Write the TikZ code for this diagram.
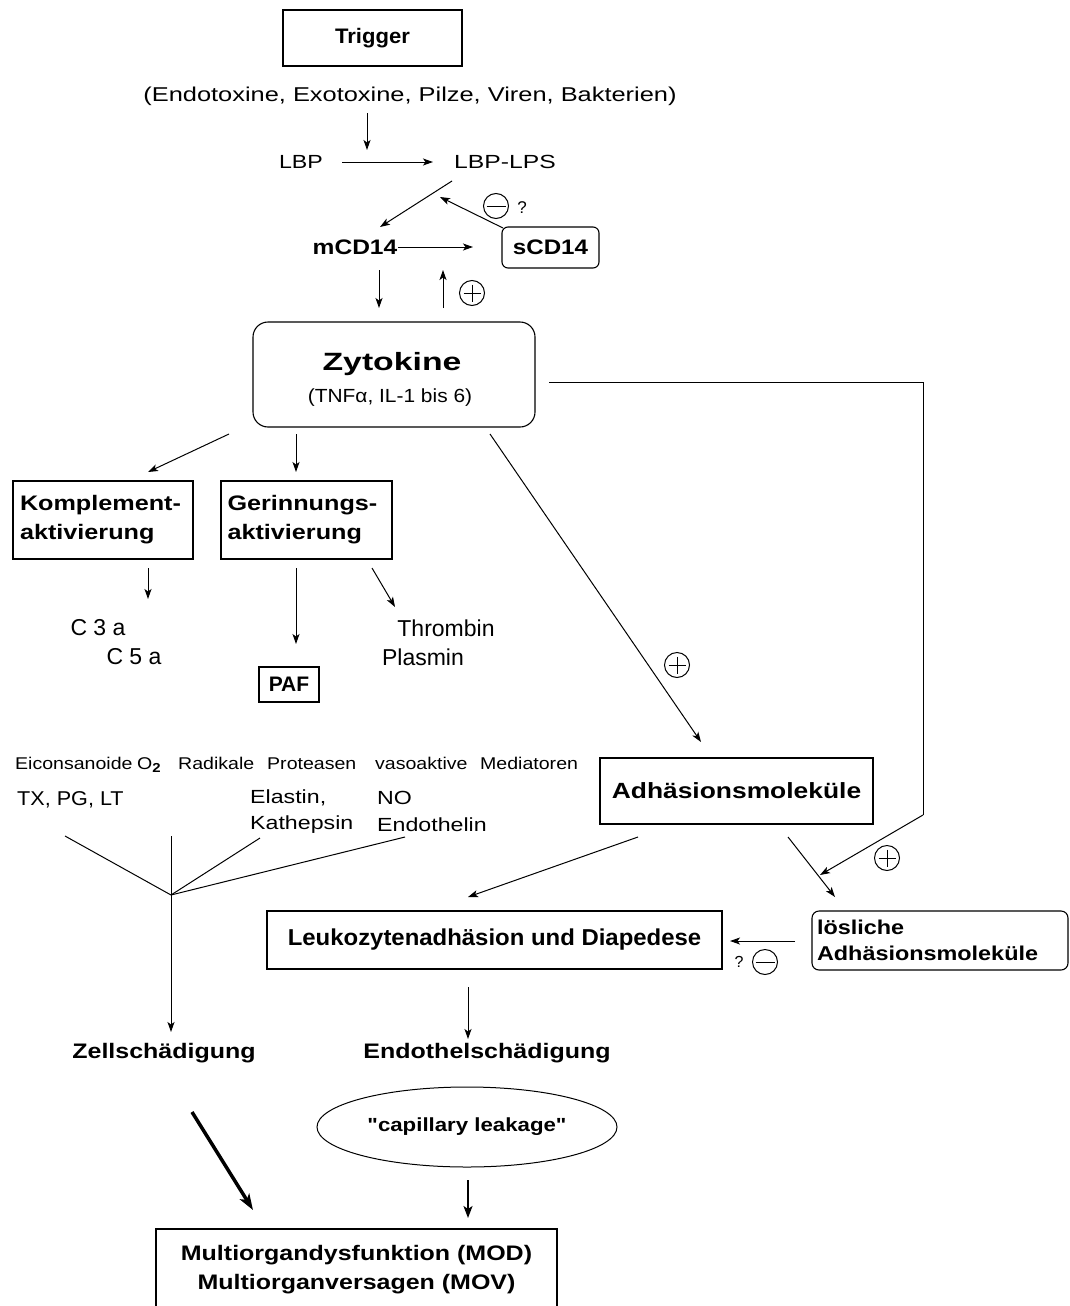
\documentclass[tikz,border=0pt]{standalone}
\usepackage{fontspec}
\setmainfont{Liberation Sans}[Ligatures=TeXOff]
\usetikzlibrary{arrows.meta,shapes.geometric}
\newcommand\ff[3]{\fontsize{#1pt}{#2pt}\selectfont\addfontfeature{FakeStretch=#3}}
\begin{document}
\begin{tikzpicture}[x=1pt,y=-1pt,
  box/.style={draw, line width=1.1pt, inner sep=0pt, align=center},
  lbl/.style={inner sep=0pt},
  arr/.style={-{Stealth[length=10pt,width=7pt,inset=2.5pt]}, line width=1pt},
  ln/.style={line width=1pt},
  sgn/.style={circle, draw, line width=1pt, minimum size=25pt, inner sep=0pt},
  plussign/.style={sgn, path picture={
      \draw[line width=1pt] ([xshift=4pt]path picture bounding box.west) -- ([xshift=-4pt]path picture bounding box.east);
      \draw[line width=1pt] ([yshift=-4pt]path picture bounding box.north) -- ([yshift=4pt]path picture bounding box.south);}},
  minussign/.style={sgn, path picture={
      \draw[line width=1pt] ([xshift=3pt]path picture bounding box.west) -- ([xshift=-3pt]path picture bounding box.east);}}
]
\useasboundingbox (0,0) rectangle (1069,1306);
\fill[white] (0,0) rectangle (1069,1306);

% --- top part
\node[box, minimum width=179pt, minimum height=56pt, font=\bfseries\ff{21}{25}{1.05}] (trig) at (372.5,38) {Trigger};
\node[lbl, font=\ff{20}{24}{1.27}] (causes) at (410,96) {(Endotoxine, Exotoxine, Pilze, Viren, Bakterien)};
\node[lbl, font=\ff{19}{23}{1.22}] (lbp) at (301,162) {LBP};
\node[lbl, font=\ff{19}{23}{1.3}] (lbplps) at (505,162) {LBP-LPS};
\node[lbl, font=\bfseries\ff{21}{25}{1.17}] (mcd) at (355,247) {mCD14};
\node[box, rounded corners=6pt, minimum width=97pt, minimum height=41pt, font=\bfseries\ff{21}{25}{1.15}] (scd) at (550.5,247.5) {sCD14};
\node[minussign] (m1) at (496,206) {};
\node[lbl, font=\ff{17}{20}{1}] (q1) at (522,208) {?};
\node[plussign] (p1) at (472,293) {};

\coordinate (a1s) at (367,113); \coordinate (a1e) at (367,150);
\coordinate (a2s) at (342,162); \coordinate (a2e) at (433,162);
\coordinate (a3s) at (452,181); \coordinate (a3e) at (380,227);
\coordinate (a4s) at (503,228); \coordinate (a4e) at (440,197);
\coordinate (a5s) at (398,247); \coordinate (a5e) at (473,247);
\coordinate (a6s) at (379,270); \coordinate (a6e) at (379,308);
\coordinate (a7s) at (443,308); \coordinate (a7e) at (443,270);
\draw[arr] (a1s) -- (a1e);
\draw[arr] (a2s) -- (a2e);
\draw[arr] (a3s) -- (a3e);
\draw[arr] (a4s) -- (a4e);
\draw[arr] (a5s) -- (a5e);
\draw[arr] (a6s) -- (a6e);
\draw[arr] (a7s) -- (a7e);

% --- Zytokine
\node[box, rounded corners=15pt, minimum width=282pt, minimum height=105pt] (zyt) at (394,374.5) {};
\node[lbl, font=\bfseries\ff{25}{30}{1.35}] (zyttitle) at (392,364) {Zytokine};
\node[lbl, font=\ff{19}{23}{1.1}] (zytsub) at (390,398) {(TNFα, IL-1 bis 6)};

% --- second level
\node[box, minimum width=180pt, minimum height=78pt, text width=166pt, align=left, font=\bfseries\ff{21}{29}{1.2}] (kompl) at (103,520)
  {Komplement-\\aktivierung};
\node[box, minimum width=171pt, minimum height=78pt, text width=158pt, align=left, font=\bfseries\ff{21}{29}{1.2}] (gerin) at (306.5,520)
  {Gerinnungs-\\aktivierung};
\node[lbl, font=\ff{23}{27}{1}] (c3a) at (98,628) {C 3 a};
\node[lbl, font=\ff{23}{27}{1}] (c5a) at (134,657) {C 5 a};
\node[lbl, font=\ff{23}{27}{1}] (thr) at (446,628) {Thrombin};
\node[lbl, font=\ff{23}{27}{1}] (pla) at (423,657) {Plasmin};
\node[box, minimum width=60pt, minimum height=35pt, font=\bfseries\ff{21}{25}{1}] (paf) at (289,684.5) {PAF};
\node[plussign] (p2) at (677,665) {};

\coordinate (a8s) at (229,434); \coordinate (a8e) at (148,472);
\coordinate (a9s) at (296,434); \coordinate (a9e) at (296,472);
\coordinate (a10s) at (490,434); \coordinate (a10e) at (701,742);
\coordinate (a11s) at (148,568); \coordinate (a11e) at (148,599);
\coordinate (a12s) at (296,568); \coordinate (a12e) at (296,644);
\coordinate (a13s) at (372,568); \coordinate (a13e) at (395,607);
\draw[arr] (a8s) -- (a8e);
\draw[arr] (a9s) -- (a9e);
\draw[arr] (a10s) -- (a10e);
\draw[arr] (a11s) -- (a11e);
\draw[arr] (a12s) -- (a12e);
\draw[arr] (a13s) -- (a13e);

% --- right feedback line
\coordinate (rl1) at (549,382); \coordinate (rl2) at (923,382); \coordinate (rl3) at (923,815);
\coordinate (rl4) at (820,875);
\draw[ln] (rl1) -- (rl2) -- (rl3);
\draw[arr] (rl3) -- (rl4);
\node[plussign] (p3) at (887,858) {};

% --- mediators
\tikzset{med/.style={lbl, anchor=base west, font=\ff{17}{20}{1.15}}}
\node[med] (t1) at (15,769) {Eiconsanoide};
\node[med] (t2) at (137,769) {O\raisebox{-3pt}{\bfseries\fontsize{13pt}{13pt}\selectfont 2}};
\node[med] (t3) at (178,769) {Radikale};
\node[med] (t4) at (267,769) {Proteasen};
\node[med] (t5) at (375,769) {vasoaktive};
\node[med] (t6) at (480,769) {Mediatoren};
\node[lbl, anchor=west, font=\ff{20}{24}{1.08}] (tx) at (17,800) {TX, PG, LT};
\tikzset{med2/.style={lbl, anchor=west, font=\ff{19}{23}{1.22}}}
\node[med2] (ela) at (250,798) {Elastin,};
\node[med2] (kat) at (250,825) {Kathepsin};
\node[med2] (no) at (377,798) {NO};
\node[med2] (endo) at (377,825) {Endothelin};

\coordinate (yj) at (171,895);
\coordinate (y1) at (65,836); \coordinate (y2) at (171,836);
\coordinate (y3) at (260,838); \coordinate (y4) at (405,837);
\coordinate (y5) at (171,1032);
\draw[ln] (y1) -- (yj);
\draw[ln] (y3) -- (yj);
\draw[ln] (y4) -- (yj);
\draw[arr] (y2) -- (y5);

% --- adhesion
\node[box, minimum width=273pt, minimum height=66pt, font=\bfseries\ff{22}{26}{1.2}] (adh) at (736.5,791) {Adhäsionsmoleküle};
\node[box, minimum width=455pt, minimum height=58pt, font=\bfseries\ff{23}{27}{1.04}] (leu) at (494.5,940) {Leukozytenadhäsion und Diapedese};
\node[box, rounded corners=7pt, minimum width=256pt, minimum height=59pt, text width=246pt, align=left, font=\bfseries\ff{20}{26}{1.17}] (loes) at (940,940.5)
  {lösliche\\Adhäsionsmoleküle};
\node[lbl, font=\ff{16}{19}{1}] (q2) at (739,962) {?};
\node[minussign] (m2) at (765,962) {};

\coordinate (a15s) at (638,837); \coordinate (a15e) at (468,897);
\coordinate (a16s) at (788,837); \coordinate (a16e) at (835,897);
\coordinate (a17s) at (795,941); \coordinate (a17e) at (730,941);
\coordinate (a18s) at (468,987); \coordinate (a18e) at (468,1039);
\draw[arr] (a15s) -- (a15e);
\draw[arr] (a16s) -- (a16e);
\draw[arr] (a17s) -- (a17e);
\draw[arr] (a18s) -- (a18e);

% --- bottom
\node[lbl, font=\bfseries\ff{21}{25}{1.19}] (zell) at (164,1053) {Zellschädigung};
\node[lbl, font=\bfseries\ff{21}{25}{1.19}] (endos) at (487,1053) {Endothelschädigung};
\node[draw, ellipse, line width=1pt, minimum width=300pt, minimum height=80pt, inner sep=0pt, font=\bfseries\ff{19}{23}{1.17}] (cap) at (467,1127)
  {"capillary leakage"};
\node[box, minimum width=401pt, minimum height=82pt, font=\bfseries\ff{21}{29}{1.19}] (mod) at (356.5,1270)
  {Multiorgandysfunktion (MOD)\\Multiorganversagen (MOV)};

\coordinate (b1s) at (192,1112); \coordinate (b1e) at (253,1210);
\coordinate (b2s) at (468,1180); \coordinate (b2e) at (468,1218);
\draw[-{Stealth[length=16pt,width=11pt,inset=4pt]}, line width=3.5pt] (b1s) -- (b1e);
\draw[-{Stealth[length=12pt,width=9pt,inset=3pt]}, line width=2pt] (b2s) -- (b2e);
\end{tikzpicture}
\end{document}
